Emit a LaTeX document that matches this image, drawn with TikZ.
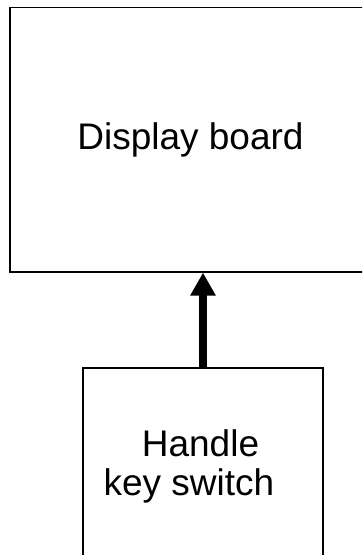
\documentclass[tikz,border=0pt]{standalone}
\usepackage{fontspec}
\setmainfont{Liberation Sans}
\usetikzlibrary{arrows.meta}
\begin{document}
\begin{tikzpicture}[x=1bp,y=-1bp,
  box/.style={draw=black, line width=1.8bp, fill=none, inner sep=0pt},
  lbl/.style={inner sep=0pt, anchor=base, font=\fontsize{37bp}{41bp}\selectfont},
  link/.style={line width=7.6bp, -{Triangle[width=24bp,length=23bp]}}]
  \useasboundingbox (0,0) rectangle (362,555);
  \clip (0,0) rectangle (362,555);
  % upper block, its right side runs past the frame
  \node[box, minimum width=365bp, minimum height=264.2bp] (disp) at (192.5,139.6) {};
  % lower block, its bottom runs past the frame
  \node[box, minimum width=240.6bp, minimum height=232.3bp] (hks) at (203,483.85) {};
  % labels
  \node[lbl] (tdisp) at (190.5,150) {Display board};
  \node[lbl] (thks1) at (200.5,456) {Handle};
  \node[lbl] (thks2) at (189,495) {key switch};
  % signal path
  \draw[link] (hks.north) -- (hks.north |- disp.south);
\end{tikzpicture}
\end{document}
